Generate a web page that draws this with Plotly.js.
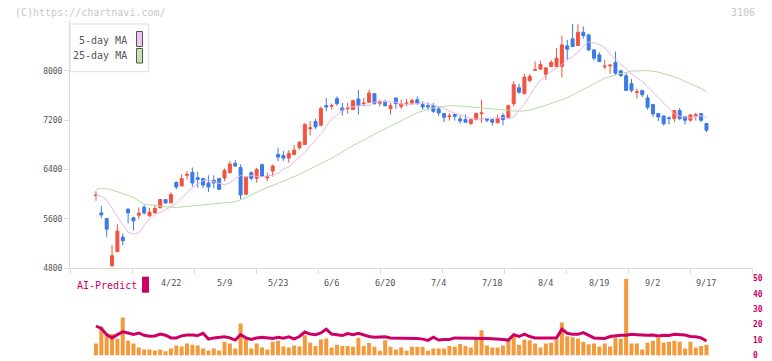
<!DOCTYPE html>
<html><head><meta charset="utf-8">
<script src="https://cdn.plot.ly/plotly-3.0.1.min.js"></script>
<style>html,body{margin:0;padding:0;background:#fff}#chart{width:772px;height:361px}</style>
</head><body><div id="chart"></div>
<script>
// Daily candles, 2025-04-02 .. 2025-09-17 (index 0..114)
const open=[5975,5694,5603,4838,5064,5301,5754,5614,5657,5786,
5646,5694,5775,5911,5856,6190,6130,6303,6352,6266,
6254,6179,6222,6254,6260,6347,6497,6432,5996,6347,
6255,6476,6262,6373,6643,6627,6583,6643,6751,6804,
7060,7176,7116,7434,7425,7548,7397,7385,7370,7543,
7465,7488,7628,7475,7488,7386,7559,7423,7465,7478,
7531,7451,7434,7434,7381,7305,7255,7289,7219,7208,
7144,7208,7305,7224,7208,7155,7273,7246,7467,7725,
7628,7843,8008,8027,7940,8069,8069,8069,8404,8517,
8409,8625,8582,8339,8258,8065,8080,8134,8000,7919,
7790,7648,7682,7559,7451,7305,7268,7236,7224,7354,
7257,7197,7275,7305,7144];
const close=[5985,5662,5430,5000,5398,5242,5694,5565,5690,5694,
5705,5765,5911,5856,5991,6114,6250,6319,6179,6238,
6146,6114,6179,6077,6384,6486,6454,5985,6271,6255,
6400,6292,6276,6454,6600,6583,6659,6712,6841,7127,
7074,7090,7386,7413,7435,7467,7358,7395,7515,7434,
7475,7640,7467,7485,7434,7434,7467,7462,7475,7520,
7467,7413,7413,7342,7316,7246,7265,7262,7187,7165,
7208,7305,7315,7197,7165,7224,7208,7434,7774,7650,
7898,7908,8018,8102,8048,8134,8205,8420,8351,8393,
8625,8570,8339,8205,8150,8075,8092,7962,7924,7682,
7682,7660,7612,7407,7300,7251,7139,7225,7354,7224,
7197,7284,7285,7197,7036];
const high=[6050,5807,5610,5172,5511,5361,5770,5630,5781,5823,
5775,5830,5915,5915,6029,6200,6319,6373,6432,6363,
6260,6303,6303,6260,6416,6535,6551,6481,6280,6368,
6427,6497,6347,6481,6751,6697,6713,6793,6858,7154,
7181,7219,7423,7559,7467,7585,7478,7478,7531,7693,
7559,7693,7640,7531,7531,7478,7559,7531,7543,7543,
7585,7505,7488,7478,7423,7316,7316,7305,7273,7289,
7215,7327,7531,7235,7219,7289,7316,7451,7828,7790,
7951,7951,8150,8162,8048,8178,8367,8570,8501,8760,
8755,8720,8600,8339,8300,8178,8100,8312,8016,7963,
7865,7709,7682,7612,7451,7316,7268,7262,7354,7397,
7257,7290,7316,7305,7144];
const low=[5890,5608,5306,4820,5064,5172,5523,5410,5592,5668,
5636,5689,5775,5840,5856,6078,6130,6238,6125,6104,
6098,6033,6093,6077,6211,6336,6444,5915,5990,6222,
6185,6292,6211,6282,6535,6535,6508,6627,6723,6804,
6950,7058,7100,7342,7370,7434,7273,7305,7370,7289,
7423,7478,7451,7423,7423,7289,7381,7381,7423,7451,
7451,7370,7358,7316,7262,7165,7192,7192,7144,7165,
7116,7197,7155,7165,7111,7155,7116,7235,7423,7628,
7628,7811,8000,8016,7854,8060,8065,7892,8178,8393,
8409,8520,8320,8167,8140,8027,7951,7935,7898,7682,
7650,7548,7575,7370,7252,7181,7111,7127,7165,7197,
7127,7176,7192,7165,7003];

// 5-day MA (one value per candle)
const ma5=[5980,5965,5900,5760,5640,5500,5380,5350,5370,5480,
5600,5670,5700,5750,5790,5850,5930,6020,6110,6170,
6220,6225,6200,6170,6150,6180,6250,6300,6280,6300,
6290,6275,6300,6300,6335,6405,6440,6515,6600,6680,
6785,6880,6970,7100,7215,7280,7360,7410,7415,7435,
7435,7435,7490,7505,7500,7500,7490,7460,7455,7455,
7470,7480,7470,7450,7420,7390,7345,7315,7290,7255,
7225,7215,7225,7230,7240,7240,7240,7220,7245,7360,
7460,7595,7735,7850,7915,7995,8040,8100,8180,8230,
8300,8400,8470,8455,8425,8375,8270,8180,8105,8040,
7945,7890,7830,7740,7650,7560,7470,7380,7300,7265,
7250,7235,7255,7270,7235];

const ma25Idx=[0,1,2,3,5,7,9,11,13,15,18,21,24,26,28,31,35,38,41,44,47,51,54,57,60,63,66,69,71,74,76,79,81,83,85,88,90,93,95,98,100,103,105,108,110,113,114];
const ma25=[6077,6090,6085,6065,6008,5943,5835,5808,5792,5782,5805,5825,5852,5875,5940,6070,6211,6319,6450,6580,6740,6930,7060,7190,7320,7397,7434,7422,7407,7378,7358,7342,7360,7410,7470,7562,7650,7795,7880,7955,7993,8005,7978,7905,7830,7712,7656];

// Lower panel (0-50 scale)
const volume=[7.7,18.7,14.6,13.9,10.8,24.6,9.6,7.7,5.2,3.9,
3.9,3.3,3.9,2.7,4.6,6.5,5.8,7.7,6.9,6.5,
4.6,3.3,4.6,3.3,8.9,7.7,4.6,20.8,11.5,4.6,
7.7,5.2,3.9,8.9,9.6,5.8,5.2,6.5,5.8,13.1,
8.3,6.2,10.4,11.0,5.2,6.9,6.2,6.2,5.6,11.5,
6.2,8.1,5.6,3.1,9.8,5.6,3.9,5.2,3.1,5.6,
5.6,5.6,3.1,4.6,4.6,4.6,6.2,5.6,7.5,6.2,
5.2,11.5,16.4,6.5,5.2,5.2,6.5,9.8,12.4,6.9,
10.4,9.8,7.7,5.2,7.7,8.3,10.4,21.4,12.5,11.9,
11.0,8.9,7.3,7.7,5.8,7.7,5.8,11.5,11.0,49.5,
7.7,7.7,3.9,8.3,9.6,11.5,8.3,8.9,9.6,8.9,
4.6,8.9,5.2,6.2,7.0];
const aiPredict=[19.1,17.5,13.5,11.4,13.5,15.4,14.6,13.7,14.6,13.1,
12.5,12.7,13.9,13.1,11.4,11.4,12.7,13.3,13.3,12.9,
14.4,10.6,11.4,11.6,12.1,11.4,10.0,13.5,11.4,10.4,
11.4,11.8,11.4,11.0,11.8,11.2,12.1,10.8,12.3,15.2,
13.9,13.5,14.6,17.1,13.9,13.3,12.9,14.2,13.5,14.4,
13.3,12.3,11.8,12.1,12.1,11.4,11.4,11.2,11.0,11.0,
11.0,10.6,9.8,11.8,10.0,10.4,10.4,11.4,11.4,11.4,
11.2,11.0,11.2,11.0,10.8,10.8,10.4,10.0,13.5,12.3,
13.9,12.3,11.4,11.4,11.4,11.4,11.4,17.1,14.4,13.7,
13.7,14.8,13.3,11.4,11.2,11.0,12.3,12.9,13.1,13.1,
13.7,13.5,13.1,13.1,13.3,12.7,13.1,12.9,13.7,13.5,
13.3,12.3,12.1,11.4,9.4];

const tickIdx=[14,24,34,44,54,64,74,84,94,104,114];
const tickText=['4/22','5/9','5/23','6/6','6/20','7/4','7/18','8/4','8/19','9/2','9/17'];
const yTicks=[4800,5600,6400,7200,8000];
const subTicks=[0,10,20,30,40,50];

const idx=open.map((_,i)=>i);
const XR=[-4.85,122.5];
const MONO='DejaVu Sans Mono, Liberation Mono, monospace';

const traces=[
  {type:'scatter',mode:'lines',x:ma25Idx,y:ma25,xaxis:'x',yaxis:'y',line:{color:'#b4dca5',width:1},hoverinfo:'skip'},
  {type:'scatter',mode:'lines',x:idx,y:ma5,xaxis:'x',yaxis:'y',line:{color:'#e8b6ea',width:1},hoverinfo:'skip'},
  {type:'candlestick',x:idx,open:open,high:high,low:low,close:close,xaxis:'x',yaxis:'y',
   increasing:{line:{color:'#f2533f',width:1},fillcolor:'#f2533f'},
   decreasing:{line:{color:'#3c7ae6',width:1},fillcolor:'#3c7ae6'},
   whiskerwidth:0,hoverinfo:'skip'},
  {type:'bar',x:idx,y:volume,xaxis:'x2',yaxis:'y2',marker:{color:'#f39a3d'},hoverinfo:'skip'},
  {type:'scatter',mode:'lines',x:idx,y:aiPredict,xaxis:'x2',yaxis:'y2',line:{color:'#cc0066',width:3},hoverinfo:'skip'}
];

const px=(v)=>(v-70)/682;      // pixel x -> paper x
const py=(v)=>(361-v)/361;     // pixel y -> paper y

const annotations=tickIdx.map((k,i)=>({xref:'x',yref:'paper',x:k,y:py(282.5),text:tickText[i],showarrow:false,
  xanchor:'center',yanchor:'middle',font:{family:MONO,size:8.5,color:'#555'}}));
annotations.push(
  {xref:'paper',yref:'paper',x:px(13),y:py(12),text:'(C)https://chartnavi.com/',showarrow:false,xanchor:'left',yanchor:'middle',font:{family:MONO,size:10,color:'#c8c8c8'}},
  {xref:'paper',yref:'paper',x:px(757),y:py(12),text:'3106',showarrow:false,xanchor:'right',yanchor:'middle',font:{family:MONO,size:10,color:'#c8c8c8'}},
  {xref:'paper',yref:'paper',x:px(129),y:py(40.5),text:'5-day MA',showarrow:false,xanchor:'right',yanchor:'middle',font:{family:MONO,size:10,color:'#555'}},
  {xref:'paper',yref:'paper',x:px(129),y:py(56),text:'25-day MA',showarrow:false,xanchor:'right',yanchor:'middle',font:{family:MONO,size:10,color:'#555'}},
  {xref:'paper',yref:'paper',x:px(75),y:py(285.5),text:'AI-Predict',showarrow:false,xanchor:'left',yanchor:'middle',font:{family:MONO,size:10,color:'#cc0066'}}
);

const shapes=[
  {type:'rect',xref:'paper',yref:'paper',x0:px(70),x1:px(148.3),y0:py(71.7),y1:py(24),line:{color:'#dddddd',width:1},fillcolor:'rgba(255,255,255,0)',layer:'below'},
  {type:'rect',xref:'paper',yref:'paper',x0:px(136.5),x1:px(142.5),y0:py(46.5),y1:py(31.5),line:{color:'#555',width:1},fillcolor:'#f0c4f0'},
  {type:'rect',xref:'paper',yref:'paper',x0:px(136.5),x1:px(142.5),y0:py(63),y1:py(48.5),line:{color:'#555',width:1},fillcolor:'#c2e4b2'},
  {type:'rect',xref:'paper',yref:'paper',x0:px(142),x1:px(149),y0:py(292.7),y1:py(276.7),line:{width:0},fillcolor:'#cc0066'}
];

const layout={
  width:772,height:361,
  margin:{l:70,r:20,t:0,b:0},
  paper_bgcolor:'#ffffff',plot_bgcolor:'#ffffff',
  showlegend:false,
  boxgap:0.2,bargap:0.25,
  font:{family:MONO,size:8,color:'#555'},
  xaxis:{domain:[0,1],range:XR,anchor:'y',showline:true,linecolor:'#dcdcdc',linewidth:1,
    ticks:'outside',ticklen:5,tickcolor:'#dcdcdc',tickmode:'linear',tick0:XR[0],dtick:(XR[1]-XR[0])/11,
    showticklabels:false,showgrid:false,zeroline:false,rangeslider:{visible:false},fixedrange:true},
  yaxis:{domain:[py(268),py(20)],range:[4800,8824],anchor:'x',showline:true,linecolor:'#dcdcdc',linewidth:1,
    ticks:'outside',ticklen:5,tickcolor:'#dcdcdc',tickvals:yTicks,ticktext:yTicks.map(String),
    showgrid:false,zeroline:false,tickfont:{family:MONO,size:8,color:'#555'},fixedrange:true},
  xaxis2:{domain:[0,1],range:XR,anchor:'y2',visible:false,fixedrange:true},
  yaxis2:{domain:[py(355.5),py(278.3)],range:[0,50],anchor:'x2',side:'right',tickvals:subTicks,
    showgrid:false,zeroline:false,showline:false,ticks:'',ticklabeloverflow:'allow',
    tickfont:{family:MONO,size:8,color:'#cc0066',weight:'bold'},fixedrange:true},
  annotations:annotations,
  shapes:shapes
};

Plotly.newPlot('chart',traces,layout,{displayModeBar:false,staticPlot:true});
</script>
</body></html>
